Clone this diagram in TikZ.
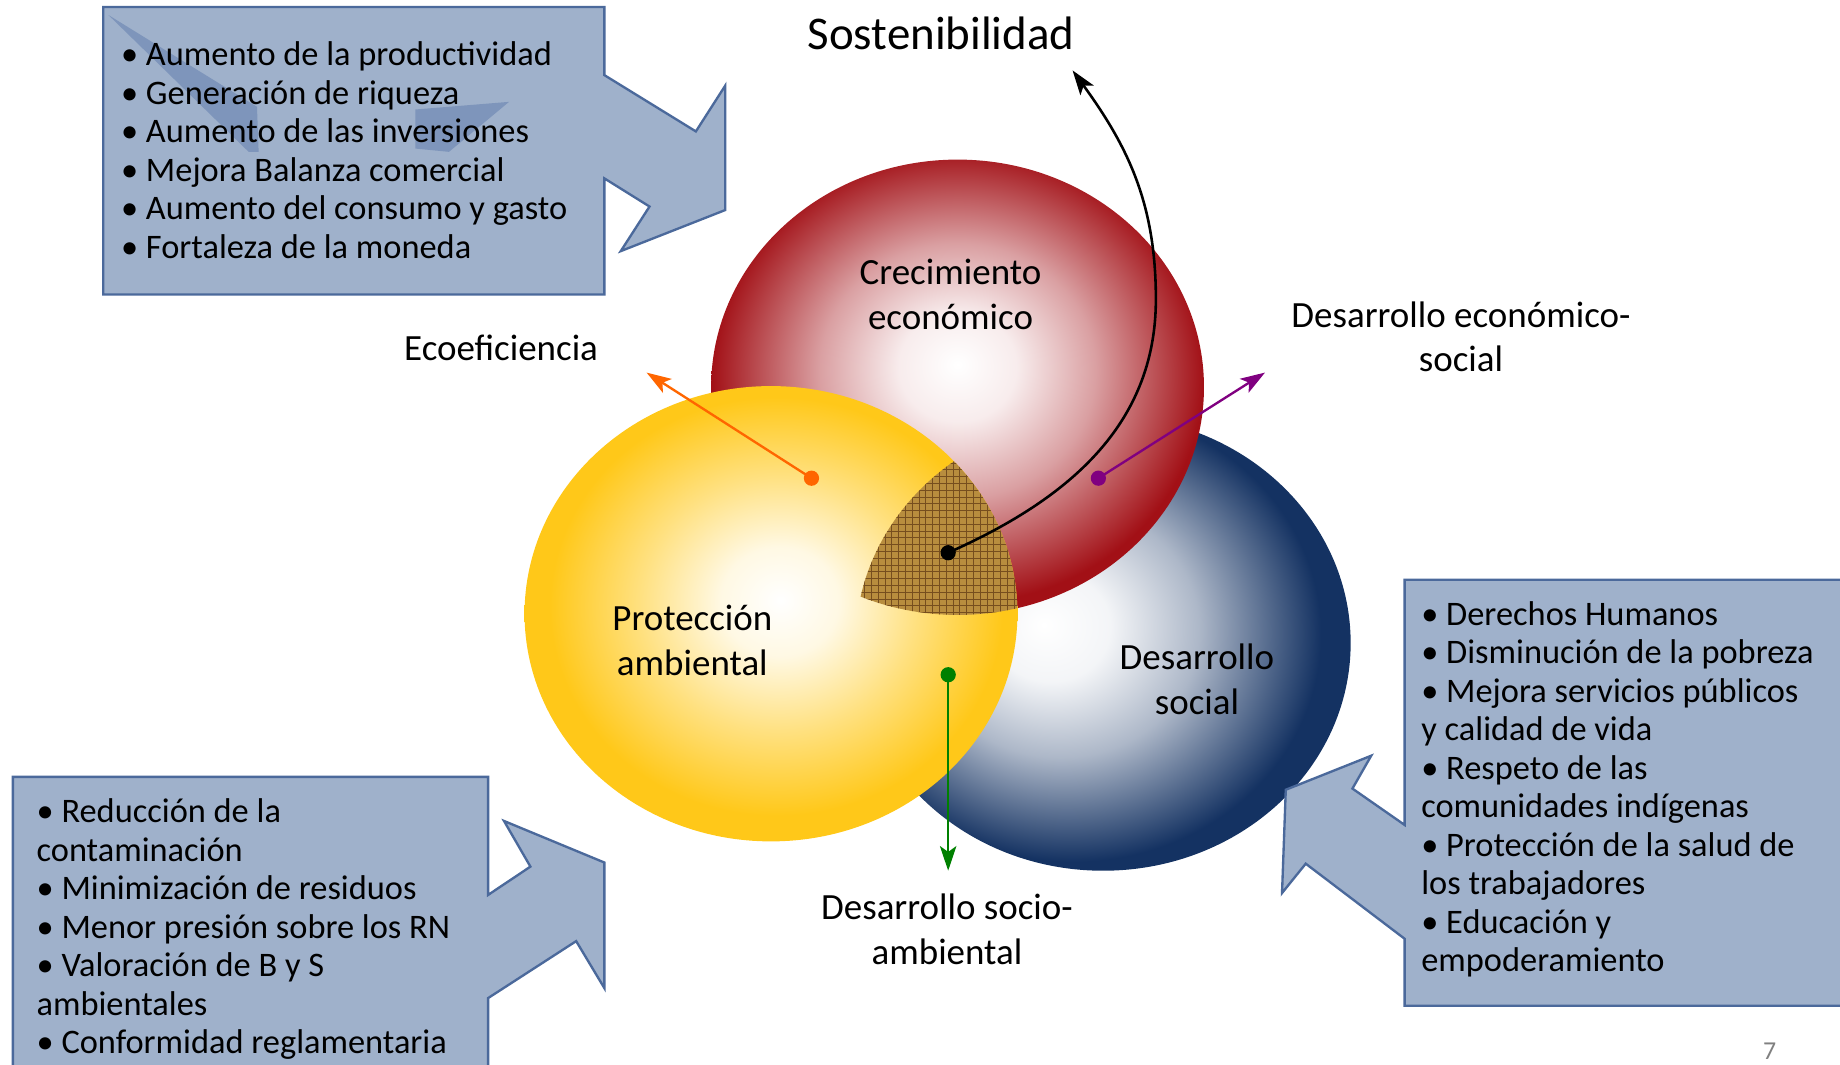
\documentclass[tikz,border=0pt]{standalone}
\usepackage{fontspec}
\setmainfont{Carlito}
\usetikzlibrary{arrows.meta}
\definecolor{boxfill}{RGB}{159,177,203}
\definecolor{boxline}{RGB}{75,105,155}
\definecolor{boxdark}{RGB}{126,149,187}
\definecolor{redc}{RGB}{162,16,22}
\definecolor{yelc}{RGB}{255,200,25}
\definecolor{bluc}{RGB}{20,50,98}
\definecolor{hatchc}{RGB}{184,141,62}
\definecolor{hatchl}{RGB}{118,78,30}
\definecolor{orangec}{RGB}{255,102,0}
\definecolor{purplec}{RGB}{128,0,128}
\definecolor{greenc}{RGB}{0,128,0}
\definecolor{pagegray}{RGB}{128,128,128}
\pgfdeclareradialshading{redsh}{\pgfpoint{0bp}{2.5bp}}{color(0bp)=(white); color(6bp)=(redc!8!white); color(14bp)=(redc!40!white); color(25bp)=(redc); color(50bp)=(redc)}
\pgfdeclareradialshading{yelsh}{\pgfpoint{1bp}{1.5bp}}{color(0bp)=(white); color(6bp)=(yelc!12!white); color(14bp)=(yelc!55!white); color(23bp)=(yelc); color(50bp)=(yelc)}
\pgfdeclareradialshading{blush}{\pgfpoint{-6bp}{2bp}}{color(0bp)=(white); color(6bp)=(bluc!5!white); color(14bp)=(bluc!35!white); color(25bp)=(bluc); color(50bp)=(bluc)}
\begin{document}
\begin{tikzpicture}[x=1pt,y=-1pt,
  boxshape/.style={fill=boxfill, draw=boxline, line width=2pt, line join=miter},
  boxdarkst/.style={fill=boxdark},
  boxtext/.style={anchor=north west, inner sep=0pt, align=left, font=\fontsize{29.3}{32.8}\selectfont},
  lbl/.style={align=center, inner sep=0pt, font=\fontsize{31.5}{38}\selectfont},
  dotst/.style={circle, fill, inner sep=0pt, minimum size=13pt},
  conn/.style={line width=2pt, -{Stealth[length=21pt,width=14pt,inset=5pt]}},
]
\useasboundingbox (0,0) rectangle (1568,907);
\clip (0,0) rectangle (1568,907);

% circles
\shade[shading=blush] (940,548) ellipse [x radius=211, y radius=194];
\shade[shading=redsh] (816,330) ellipse [x radius=210, y radius=194];
\shade[shading=yelsh] (657,523) ellipse [x radius=210, y radius=194];

% triple intersection
\begin{scope}
  \clip (816,330) ellipse [x radius=210, y radius=194];
  \clip (657,523) ellipse [x radius=210, y radius=194];
  \clip (940,548) ellipse [x radius=211, y radius=194];
  \fill[hatchc] (700,540) rectangle (900,380);
  \draw[hatchl, line width=0.5pt, step=5.8pt] (700,540) grid (900,380);
\end{scope}

% callout boxes
\draw[boxshape] (88,6) -- (515,6) -- (515,64) -- (593,112) -- (618,73) -- (618,179)
  -- (529,214) -- (553.5,176) -- (515,152) -- (515,251) -- (88,251) -- cycle;
\fill[boxdarkst] (92.4,12.8) -- (219,91) -- (220.4,129.4) -- (211.9,129.4) -- cycle;
\fill[boxdarkst] (354,93.3) -- (433.8,86.8) -- (382.6,129.4) -- (354,126.6) -- cycle;

\draw[boxshape] (11,662) -- (416,662) -- (416,762.6) -- (452,738.5) -- (429.5,699.6)
  -- (515,735) -- (515,842) -- (491,802) -- (416,850.5) -- (416,915) -- (11,915) -- cycle;

\draw[boxshape] (1580,494) -- (1197,494) -- (1197,703) -- (1152.5,672) -- (1168.5,644)
  -- (1095.7,673) -- (1092.5,761) -- (1112.7,736) -- (1197,800) -- (1197,857) -- (1580,857) -- cycle;

\node[boxtext] (econlist) at (103,33) {\strut• Aumento de la productividad\\• Generación de riqueza\\• Aumento de las inversiones\\• Mejora Balanza comercial\\• Aumento del consumo y gasto\\• Fortaleza de la moneda};
\node[boxtext] (amblist) at (31,678) {\strut• Reducción de la\\contaminación\\• Minimización de residuos\\• Menor presión sobre los RN\\• Valoración de B y S\\ambientales\\• Conformidad reglamentaria};
\node[boxtext] (soclist) at (1211,509.6) {\strut• Derechos Humanos\\• Disminución de la pobreza\\• Mejora servicios públicos\\y calidad de vida\\• Respeto de las\\comunidades indígenas\\• Protección de la salud de\\los trabajadores\\• Educación y\\empoderamiento};

% labels
\node[lbl] (crec) at (810,251) {Crecimiento\\económico};
\node[lbl] (prot) at (590,545.5) {Protección\\ambiental};
\node[lbl] (dsoc) at (1020,579) {Desarrollo\\social};
\node[lbl] (dsa) at (807,792) {Desarrollo socio-\\ambiental};
\node[lbl] (des) at (1245,287) {Desarrollo económico-\\social};
\node[lbl, anchor=base] (eco) at (427,307) {Ecoeficiencia};
\node[anchor=base, inner sep=0pt, font=\fontsize{40}{48}\selectfont] (sost) at (802,42) {Sostenibilidad};
\node[anchor=base, inner sep=0pt, text=pagegray, font=\fontsize{22}{26}\selectfont] (pnum) at (1508,903) {7};

% connectors
\node[dotst, orangec] (odot) at (691.5,407.5) {};
\coordinate (otip) at (551,317.5);
\draw[conn, orangec] (odot.center) -- (otip);

\node[dotst, purplec] (pdot) at (936,407.5) {};
\coordinate (ptip) at (1078,317.5);
\draw[conn, purplec] (pdot.center) -- (ptip);

\node[dotst, greenc] (gdot) at (808,575) {};
\coordinate (gtip) at (808,742);
\draw[conn, greenc] (gdot.center) -- (gtip);

\node[dotst, black] (bdot) at (808,471) {};
\coordinate (bmid) at (985,255);
\coordinate (btip) at (914,60);
\draw[conn, black, line width=2.2pt] (bdot.center) .. controls (907.6,426.7) and (985,364) .. (bmid)
  .. controls (985,174) and (961.6,125.5) .. (btip);
\end{tikzpicture}
\end{document}
